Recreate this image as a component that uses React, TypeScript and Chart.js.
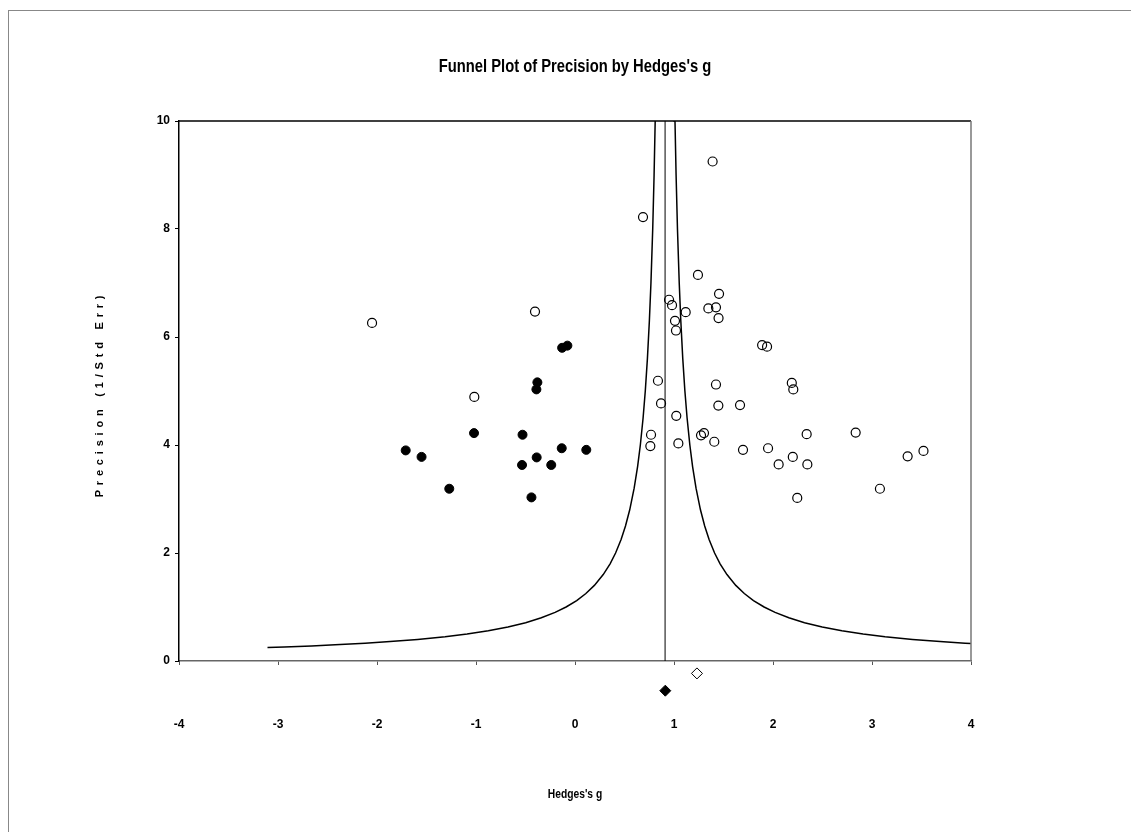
import React, { useEffect, useRef } from "react";
import { Chart, registerables } from "chart.js";

Chart.register(...registerables);

// Observed studies (open circles)
const observedG = [
  -2.05, -0.404, -1.017, 1.39, 0.687, 1.242, 0.95, 0.98, 1.455, 1.347, 1.424, 1.45, 1.118, 1.01,
  1.02, 1.89, 1.94, 0.838, 1.424, 2.19, 2.205, 0.869, 1.448, 1.667, 1.023, 0.768, 0.761, 1.044,
  1.273, 1.303, 1.407, 1.697, 1.95, 2.057, 2.2, 2.34, 2.835, 2.347, 2.245, 3.36, 3.52, 3.08,
];
const observedPrec = [
  6.26, 6.47, 4.89, 9.25, 8.22, 7.15, 6.69, 6.59, 6.8, 6.53, 6.55, 6.35, 6.46, 6.3,
  6.12, 5.85, 5.82, 5.19, 5.12, 5.15, 5.03, 4.77, 4.73, 4.74, 4.54, 4.19, 3.98, 4.03,
  4.18, 4.22, 4.06, 3.91, 3.94, 3.64, 3.78, 4.2, 4.23, 3.64, 3.02, 3.79, 3.89, 3.19,
];

// Imputed studies (filled circles)
const imputedG = [
  -1.71, -1.55, -1.27, -1.02, -0.53, -0.535, -0.387, -0.44, -0.24, -0.134, 0.114, -0.38, -0.39,
  -0.13, -0.077,
];
const imputedPrec = [
  3.9, 3.78, 3.19, 4.22, 4.19, 3.63, 3.77, 3.03, 3.63, 3.94, 3.91, 5.16, 5.03, 5.8, 5.84,
];

// Summary effects (diamonds below the axis): g value and vertical slot below 0
const summaryG = [1.232, 0.912];
const summaryY = [-0.23, -0.55];
const summaryFilled = [false, true];

// Funnel
const funnelCenter = 0.91;
const funnelPrecisions = [
  0.249, 0.26, 0.28, 0.3, 0.33, 0.36, 0.4, 0.45, 0.5, 0.56, 0.63, 0.71, 0.8, 0.9, 1, 1.12, 1.25,
  1.4, 1.6, 1.8, 2, 2.25, 2.5, 2.8, 3.2, 3.6, 4, 4.5, 5, 5.6, 6.3, 7, 8, 9, 10, 11,
];

const xTicks = [-4, -3, -2, -1, 0, 1, 2, 3, 4];
const yTicks = [0, 2, 4, 6, 8, 10];

const TITLE = "Funnel Plot of Precision by Hedges's g";
const X_TITLE = "Hedges's g";
const Y_TITLE = "Precision (1/Std Err)";

const SANS = "'Liberation Sans', Arial, sans-serif";

function narrowText(ctx: any, text: string, x: number, y: number, size: number, squeeze: number) {
  ctx.save();
  ctx.translate(x, y);
  ctx.scale(squeeze, 1);
  ctx.font = `bold ${size}px ${SANS}`;
  ctx.fillStyle = "#000";
  ctx.textAlign = "center";
  ctx.textBaseline = "middle";
  ctx.fillText(text, 0, 0);
  ctx.restore();
}

export default function App() {
  const ref = useRef<HTMLCanvasElement | null>(null);

  useEffect(() => {
    if (!ref.current) return;

    const frame = {
      id: "frame",
      afterDatasetsDraw(chart: any) {
        const { ctx, chartArea, scales } = chart;
        ctx.save();
        ctx.lineWidth = 1.5;
        ctx.strokeStyle = "#000";
        ctx.beginPath();
        ctx.moveTo(chartArea.left, chartArea.top);
        ctx.lineTo(chartArea.right, chartArea.top);
        ctx.stroke();
        ctx.strokeStyle = "#777";
        ctx.beginPath();
        ctx.moveTo(chartArea.right, chartArea.top);
        ctx.lineTo(chartArea.right, chartArea.bottom);
        ctx.stroke();

        // summary diamonds, placed through the chart's scales
        const r = 5.5;
        summaryG.forEach((g, i) => {
          const px = scales.x.getPixelForValue(g);
          const py = scales.y.getPixelForValue(summaryY[i]);
          ctx.beginPath();
          ctx.moveTo(px, py - r);
          ctx.lineTo(px + r, py);
          ctx.lineTo(px, py + r);
          ctx.lineTo(px - r, py);
          ctx.closePath();
          ctx.fillStyle = summaryFilled[i] ? "#000" : "#fff";
          ctx.fill();
          ctx.lineWidth = 1;
          ctx.strokeStyle = "#000";
          ctx.stroke();
        });
        ctx.restore();
      },
      afterDraw(chart: any) {
        const { ctx, chartArea } = chart;
        const cx = (chartArea.left + chartArea.right) / 2;
        // main title
        narrowText(ctx, TITLE, cx, 56, 18, 0.82);
        // x axis title
        narrowText(ctx, X_TITLE, cx, 784, 12.5, 0.82);
        // y axis title (letter-spaced)
        ctx.save();
        ctx.translate(91, (chartArea.top + chartArea.bottom) / 2);
        ctx.rotate(-Math.PI / 2);
        ctx.font = `bold 11px ${SANS}`;
        (ctx as any).letterSpacing = "4.8px";
        ctx.fillStyle = "#000";
        ctx.textAlign = "center";
        ctx.textBaseline = "middle";
        ctx.fillText(Y_TITLE, -3, 0);
        ctx.restore();
      },
    };

    const leftFunnel = funnelPrecisions.map((p) => ({ x: funnelCenter - 1 / p, y: p }));
    const rightFunnel = funnelPrecisions.map((p) => ({ x: funnelCenter + 1 / p, y: p }));

    const chart = new Chart(ref.current, {
      type: "scatter",
      data: {
        datasets: [
          {
            label: "Funnel left",
            data: leftFunnel,
            showLine: true,
            borderColor: "#000",
            borderWidth: 1.5,
            pointRadius: 0,
          },
          {
            label: "Funnel right",
            data: rightFunnel,
            showLine: true,
            borderColor: "#000",
            borderWidth: 1.5,
            pointRadius: 0,
          },
          {
            label: "Center",
            data: [
              { x: funnelCenter, y: 0 },
              { x: funnelCenter, y: 10 },
            ],
            showLine: true,
            borderColor: "#000",
            borderWidth: 1,
            pointRadius: 0,
          },
          {
            label: "Observed",
            data: observedG.map((g, i) => ({ x: g, y: observedPrec[i] })),
            pointStyle: "circle",
            pointRadius: 4.5,
            pointBorderWidth: 1.2,
            pointBorderColor: "#000",
            pointBackgroundColor: "rgba(255,255,255,0)",
          },
          {
            label: "Imputed",
            data: imputedG.map((g, i) => ({ x: g, y: imputedPrec[i] })),
            pointStyle: "circle",
            pointRadius: 4.5,
            pointBorderWidth: 1,
            pointBorderColor: "#000",
            pointBackgroundColor: "#000",
          },
        ],
      },
      options: {
        responsive: false,
        animation: false,
        devicePixelRatio: 1,
        layout: { padding: { left: 0, top: 110, right: 160, bottom: 71 } },
        plugins: {
          legend: { display: false },
          tooltip: { enabled: false },
          title: { display: false },
        },
        scales: {
          x: {
            type: "linear",
            min: -4,
            max: 4,
            afterBuildTicks: (scale: any) => {
              scale.ticks = xTicks.map((v) => ({ value: v }));
            },
            afterFit: (scale: any) => {
              scale.height = 100;
            },
            ticks: {
              color: "#000",
              padding: 52.8,
              font: { family: SANS, size: 12, weight: "bold", lineHeight: 1.2 },
              callback: (v: any) => String(v),
            },
            grid: { drawOnChartArea: false, drawTicks: true, tickLength: 4, color: "#555" },
            border: { display: true, color: "#666", width: 1.5 },
            title: { display: false, text: X_TITLE },
          },
          y: {
            type: "linear",
            min: 0,
            max: 10,
            afterBuildTicks: (scale: any) => {
              scale.ticks = yTicks.map((v) => ({ value: v }));
            },
            afterFit: (scale: any) => {
              scale.width = 170;
            },
            ticks: {
              color: "#000",
              padding: 5,
              font: { family: SANS, size: 12, weight: "bold", lineHeight: 1.2 },
              callback: (v: any) => String(v),
            },
            grid: { drawOnChartArea: false, drawTicks: true, tickLength: 4, color: "#000" },
            border: { display: true, color: "#000", width: 1.5 },
            title: { display: false, text: Y_TITLE },
          },
        },
      },
      plugins: [frame],
    });

    return () => chart.destroy();
  }, []);

  return (
    <div
      style={{
        position: "absolute",
        left: 8,
        top: 10,
        borderLeft: "1px solid #888",
        borderTop: "1px solid #888",
        width: 1122,
        height: 821,
        background: "#fff",
      }}
    >
      <canvas
        ref={ref}
        width={1122}
        height={821}
        style={{ display: "block", width: 1122, height: 821 }}
      />
    </div>
  );
}
